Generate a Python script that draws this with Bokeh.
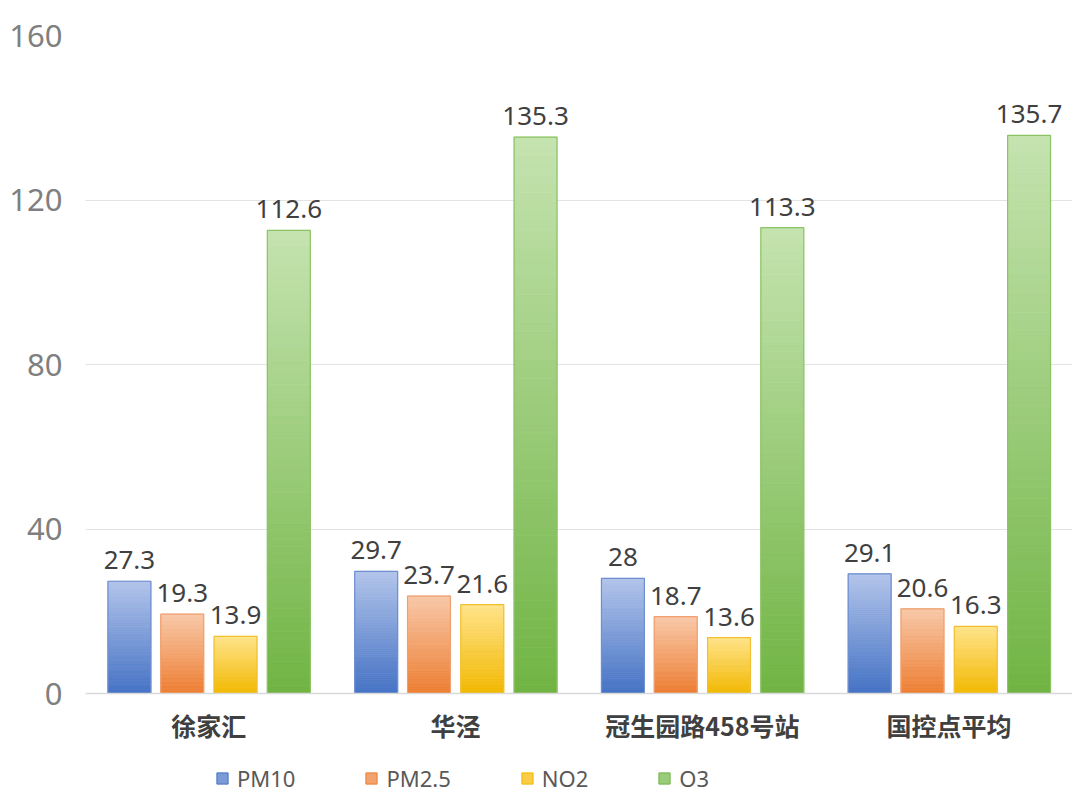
from bokeh.plotting import figure
from bokeh.layouts import column
from bokeh.models import ColumnDataSource, FactorRange, Legend, LegendItem, FixedTicker, Range1d
from bokeh.transform import dodge
from bokeh.core.properties import value
from bokeh.embed import file_html
from bokeh.resources import INLINE

stations = ["徐家汇", "华泾", "冠生园路458号站", "国控点平均"]
series = ["PM10", "PM2.5", "NO2", "O3"]
pm10 = [27.3, 29.7, 28, 29.1]
pm25 = [19.3, 23.7, 18.7, 20.6]
no2 = [13.9, 21.6, 13.6, 16.3]
o3 = [112.6, 135.3, 113.3, 135.7]
values = [pm10, pm25, no2, o3]
labels = [["27.3", "29.7", "28", "29.1"],
          ["19.3", "23.7", "18.7", "20.6"],
          ["13.9", "21.6", "13.6", "16.3"],
          ["112.6", "135.3", "113.3", "135.7"]]
y_ticks = [0, 40, 80, 120, 160]

top_colors = ["#b2c4ea", "#f8c8a8", "#ffe38a", "#c5e3b0"]
bottom_colors = ["#4472c4", "#ed7d31", "#f2b800", "#70b443"]
line_colors = ["#6f8fd0", "#f0a070", "#f0c030", "#8cc465"]
mid_colors = ["#7b9ad6", "#f2a26e", "#f8cd45", "#9acb79"]
offsets = [-0.322, -0.108, 0.108, 0.324]
BW = 0.174
N = 60

def hex2rgb(h):
    h = h.lstrip("#")
    return tuple(int(h[i:i + 2], 16) for i in (0, 2, 4))

def mix(c1, c2, t):
    a, b = hex2rgb(c1), hex2rgb(c2)
    return "#%02x%02x%02x" % tuple(int(round(a[i] + (b[i] - a[i]) * t)) for i in range(3))

p = figure(x_range=FactorRange(*stations, range_padding=0), y_range=Range1d(0, 160),
           width=1072, height=752, output_backend="svg", toolbar_location=None,
           min_border_left=85, min_border_right=0, min_border_top=35, min_border_bottom=59)
p.outline_line_color = None
p.background_fill_color = "white"

for s in range(4):
    xs, bots, tops, cols = [], [], [], []
    for c in range(4):
        v = values[s][c]
        for i in range(N):
            xs.append(stations[c])
            bots.append(v * i / N)
            tops.append(v * (i + 1) / N)
            cols.append(mix(bottom_colors[s], top_colors[s], (i + 0.5) / N))
    src = ColumnDataSource(dict(x=xs, bottom=bots, top=tops, color=cols))
    p.vbar(x=dodge("x", offsets[s], range=p.x_range), bottom="bottom", top="top", width=BW,
           fill_color="color", line_color="color", line_width=0.8, source=src)
    osrc = ColumnDataSource(dict(x=stations, top=values[s], label=labels[s]))
    p.vbar(x=dodge("x", offsets[s], range=p.x_range), bottom=0, top="top", width=BW,
           fill_color=None, line_color=line_colors[s], line_width=1.2, source=osrc)
    p.text(x=dodge("x", offsets[s], range=p.x_range), y="top", text="label", source=osrc,
           text_align="center", text_baseline="bottom", y_offset=-12,
           text_font=value("Noto Sans"), text_font_size="26px", text_color="#404040")

p.xgrid.grid_line_color = None
p.ygrid.grid_line_color = "#e3e3e3"
p.ygrid.grid_line_width = 1
p.yaxis.ticker = FixedTicker(ticks=y_ticks)
p.yaxis.axis_line_color = None
p.yaxis.major_tick_line_color = None
p.yaxis.minor_tick_line_color = None
p.yaxis.major_label_text_font = "Noto Sans"
p.yaxis.major_label_text_font_size = "31px"
p.yaxis.major_label_text_color = "#7f7f7f"
p.yaxis.major_label_standoff = 17

p.xaxis.axis_line_color = "#d9d9d9"
p.xaxis.axis_line_width = 1.5
p.xaxis.major_tick_line_color = None
p.xaxis.minor_tick_line_color = None
p.xaxis.major_label_text_font = "Noto Sans CJK SC"
p.xaxis.major_label_text_font_style = "bold"
p.xaxis.major_label_text_font_size = "25px"
p.xaxis.major_label_text_color = "#404040"
p.xaxis.major_label_standoff = 7

# legend strip
lf = figure(width=1072, height=47, output_backend="svg", toolbar_location=None,
            x_range=Range1d(0, 1), y_range=Range1d(0, 1),
            x_axis_type=None, y_axis_type=None,
            min_border=0, min_border_left=0, min_border_right=0, min_border_top=0, min_border_bottom=0)
lf.grid.visible = False
lf.outline_line_color = None
items = []
for s in range(4):
    r = lf.vbar(x=[-1], top=[-1], bottom=[-2], width=0.1, fill_color=mid_colors[s],
                line_color=bottom_colors[s])
    items.append(LegendItem(label=series[s], renderers=[r]))
legend = Legend(items=items, orientation="horizontal", location=(130, 6),
                glyph_width=14, glyph_height=14, label_standoff=8, spacing=69,
                padding=0, margin=0, border_line_color=None, background_fill_alpha=0,
                label_text_font="Noto Sans", label_text_font_size="22px",
                label_text_color="#595959")
lf.add_layout(legend, "center")

open("out.html", "w").write(file_html(column(p, lf, spacing=0), INLINE))
